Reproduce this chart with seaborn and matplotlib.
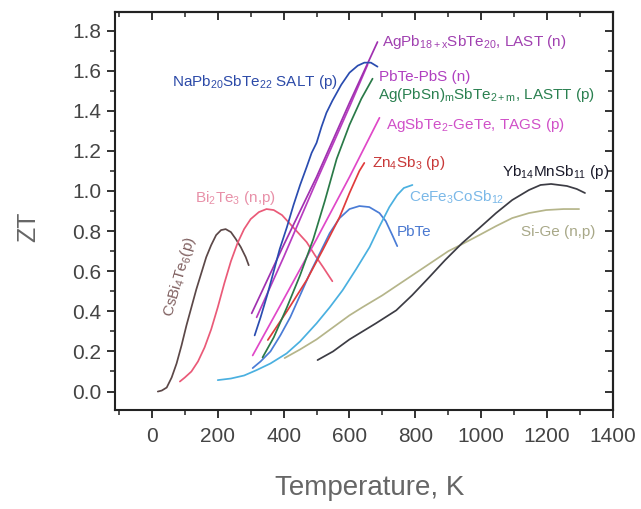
import numpy as np
import pandas as pd
import matplotlib
matplotlib.use("Agg")
import matplotlib.pyplot as plt
from matplotlib.ticker import MultipleLocator, FormatStrFormatter
import seaborn as sns

sns.set_style("ticks")
plt.rcParams['font.family'] = ['Liberation Sans', 'DejaVu Sans']
plt.rcParams['mathtext.fontset'] = 'custom'
plt.rcParams['mathtext.rm'] = 'Liberation Sans'
plt.rcParams['mathtext.it'] = 'Liberation Sans:italic'
plt.rcParams['mathtext.default'] = 'regular'

# ---- data (temperature K, ZT) ----
cs_T = [18, 30, 45, 60, 75, 90, 105, 120, 135, 150, 165, 180, 195, 210, 224, 240, 255, 270, 285, 294]
cs_ZT = [0.0, 0.005, 0.02, 0.07, 0.14, 0.23, 0.33, 0.42, 0.51, 0.59, 0.67, 0.73, 0.78, 0.805, 0.81, 0.795, 0.76, 0.72, 0.67, 0.63]

bi_T = [85, 100, 120, 140, 160, 180, 200, 220, 240, 260, 280, 300, 325, 348, 370, 395, 420, 445, 470, 495, 520, 548]
bi_ZT = [0.05, 0.07, 0.10, 0.15, 0.22, 0.31, 0.42, 0.54, 0.65, 0.74, 0.81, 0.86, 0.895, 0.91, 0.905, 0.88, 0.835, 0.79, 0.745, 0.68, 0.62, 0.55]

pbte_T = [306, 330, 360, 390, 420, 450, 480, 510, 540, 570, 600, 630, 660, 691, 710, 730, 745]
pbte_ZT = [0.117, 0.15, 0.20, 0.28, 0.37, 0.48, 0.59, 0.69, 0.79, 0.865, 0.91, 0.925, 0.92, 0.89, 0.85, 0.78, 0.725]

cefe_T = [200, 240, 280, 318, 360, 409, 450, 500, 540, 579, 620, 661, 690, 721, 745, 765, 791]
cefe_ZT = [0.057, 0.065, 0.08, 0.107, 0.14, 0.19, 0.25, 0.34, 0.42, 0.505, 0.61, 0.72, 0.82, 0.92, 0.98, 1.015, 1.03]

sige_T = [403, 450, 500, 550, 600, 639, 700, 750, 791, 850, 900, 942, 994, 1045, 1094, 1145, 1197, 1250, 1297]
sige_ZT = [0.167, 0.21, 0.26, 0.32, 0.38, 0.42, 0.48, 0.535, 0.58, 0.645, 0.70, 0.735, 0.78, 0.825, 0.865, 0.89, 0.905, 0.91, 0.91]

yb_T = [503, 550, 600, 630, 680, 742, 790, 842, 890, 942, 994, 1045, 1094, 1145, 1180, 1212, 1260, 1290, 1315]
yb_ZT = [0.157, 0.20, 0.26, 0.29, 0.34, 0.405, 0.48, 0.57, 0.655, 0.74, 0.815, 0.89, 0.955, 1.005, 1.03, 1.035, 1.025, 1.01, 0.99]

salt_T = [312, 330, 350, 370, 388, 410, 430, 450, 470, 485, 500, 515, 530, 548, 575, 600, 625, 645, 665, 685]
salt_ZT = [0.28, 0.37, 0.48, 0.60, 0.71, 0.82, 0.93, 1.03, 1.12, 1.19, 1.24, 1.32, 1.39, 1.45, 1.53, 1.59, 1.625, 1.64, 1.64, 1.62]

last_T = [303, 400, 500, 600, 685]
last_ZT = [0.39, 0.73, 1.07, 1.44, 1.743]

pbs_T = [318, 400, 500, 600, 655]
pbs_ZT = [0.37, 0.67, 1.05, 1.42, 1.63]

lastt_T = [336, 370, 410, 450, 490, 525, 561, 600, 636, 670]
lastt_ZT = [0.17, 0.27, 0.42, 0.58, 0.76, 0.95, 1.16, 1.33, 1.46, 1.56]

tags_T = [306, 400, 500, 600, 691]
tags_ZT = [0.18, 0.46, 0.76, 1.07, 1.365]

zn_T = [352, 410, 470, 520, 570, 600, 630, 645]
zn_ZT = [0.257, 0.40, 0.556, 0.71, 0.87, 0.99, 1.10, 1.14]

series = {
    "CsBi4Te6": (cs_T, cs_ZT, '#5c4848'),
    "Bi2Te3": (bi_T, bi_ZT, '#ea5a78'),
    "PbTe": (pbte_T, pbte_ZT, '#4a7cd6'),
    "CeFe3CoSb12": (cefe_T, cefe_ZT, '#4ab0e0'),
    "Si-Ge": (sige_T, sige_ZT, '#b5b58a'),
    "Yb14MnSb11": (yb_T, yb_ZT, '#3c3c44'),
    "TAGS": (tags_T, tags_ZT, '#e048c8'),
    "Zn4Sb3": (zn_T, zn_ZT, '#e03c3c'),
    "LASTT": (lastt_T, lastt_ZT, '#2a7a48'),
    "PbTe-PbS": (pbs_T, pbs_ZT, '#b83cc0'),
    "LAST": (last_T, last_ZT, '#a030b0'),
    "SALT": (salt_T, salt_ZT, '#2a4cb0'),
}

rows = []
for name, (T, Z, _) in series.items():
    for t, z in zip(T, Z):
        rows.append({"material": name, "T": t, "ZT": z})
df = pd.DataFrame(rows)
palette = {k: v[2] for k, v in series.items()}

fig = plt.figure(figsize=(6.41, 5.09), dpi=100)
ax = fig.add_axes([0.1794, 0.1945, 0.7769, 0.7825])

sns.lineplot(data=df, x="T", y="ZT", hue="material", palette=palette,
             hue_order=list(series.keys()), estimator=None, sort=False,
             linewidth=1.25, legend=False, ax=ax)

ax.set_xlim(-112, 1400)
ax.set_ylim(-0.092, 1.894)

ax.xaxis.set_major_locator(MultipleLocator(200))
ax.xaxis.set_minor_locator(MultipleLocator(100))
ax.yaxis.set_major_locator(MultipleLocator(0.2))
ax.yaxis.set_minor_locator(MultipleLocator(0.1))
ax.yaxis.set_major_formatter(FormatStrFormatter('%.1f'))

ax.tick_params(axis='both', which='major', direction='out', length=6, width=1.3,
               labelsize=15, labelcolor='#444444', color='#222222', pad=4)
ax.tick_params(axis='x', which='major', pad=6)
ax.tick_params(axis='both', which='minor', direction='out', length=3.5, width=1.1,
               color='#222222')
for sp in ax.spines.values():
    sp.set_linewidth(1.5)
    sp.set_color('#222222')
    sp.set_visible(True)

# top and right ticks pointing inward
top = ax.secondary_xaxis('top')
top.xaxis.set_major_locator(MultipleLocator(200))
top.xaxis.set_minor_locator(MultipleLocator(100))
top.tick_params(which='major', direction='in', length=6, width=1.3, labeltop=False, color='#222222')
top.tick_params(which='minor', direction='in', length=3.5, width=1.1, color='#222222')
top.spines['top'].set_linewidth(1.5)
right = ax.secondary_yaxis('right')
right.yaxis.set_major_locator(MultipleLocator(0.2))
right.yaxis.set_minor_locator(MultipleLocator(0.1))
right.tick_params(which='major', direction='in', length=6, width=1.3, labelright=False, color='#222222')
right.tick_params(which='minor', direction='in', length=3.5, width=1.1, color='#222222')
right.spines['right'].set_linewidth(1.5)

ax.set_xlabel("Temperature, K", fontsize=20, color='#666666')
ax.xaxis.set_label_coords(0.512, -0.196)
ax.xaxis.label.set_va('center')
ax.set_ylabel("ZT", fontsize=18, color='#666666')
ax.yaxis.set_label_coords(-0.175, 0.459)
ax.yaxis.label.set_va('center')

fs = 11
ax.text(700, 1.743, "AgPb$_{18+x}$SbTe$_{20}$, LAST (n)", color='#a040b0', fontsize=fs, va='center', ha='left')
ax.text(691, 1.569, "PbTe-PbS (n)", color='#b040c0', fontsize=fs, va='center', ha='left')
ax.text(688, 1.479, "Ag(PbSn)$_m$SbTe$_{2+m}$, LASTT (p)", color='#2a8050', fontsize=fs, va='center', ha='left')
ax.text(712, 1.329, "AgSbTe$_2$-GeTe, TAGS (p)", color='#d050c8', fontsize=fs, va='center', ha='left')
ax.text(667, 1.14, "Zn$_4$Sb$_3$ (p)", color='#c83838', fontsize=fs, va='center', ha='left')
ax.text(1064, 1.095, "Yb$_{14}$MnSb$_{11}$ (p)", color='#1a1a2a', fontsize=fs, va='center', ha='left')
ax.text(61, 1.543, "NaPb$_{20}$SbTe$_{22}$ SALT (p)", color='#2c4aa8', fontsize=fs, va='center', ha='left')
ax.text(782, 0.97, "CeFe$_3$CoSb$_{12}$", color='#7ab8e8', fontsize=fs, va='center', ha='left')
ax.text(742, 0.795, "PbTe", color='#4a78d0', fontsize=fs, va='center', ha='left')
ax.text(1121, 0.795, "Si-Ge (n,p)", color='#a8a888', fontsize=fs, va='center', ha='left')
ax.text(130, 0.965, "Bi$_2$Te$_3$ (n,p)", color='#e890a8', fontsize=fs, va='center', ha='left')
ax.text(85, 0.57, "CsBi$_4$Te$_6$(p)", color='#806060', fontsize=fs, va='center', ha='center', rotation=74)

fig.savefig("out.png", dpi=100)
